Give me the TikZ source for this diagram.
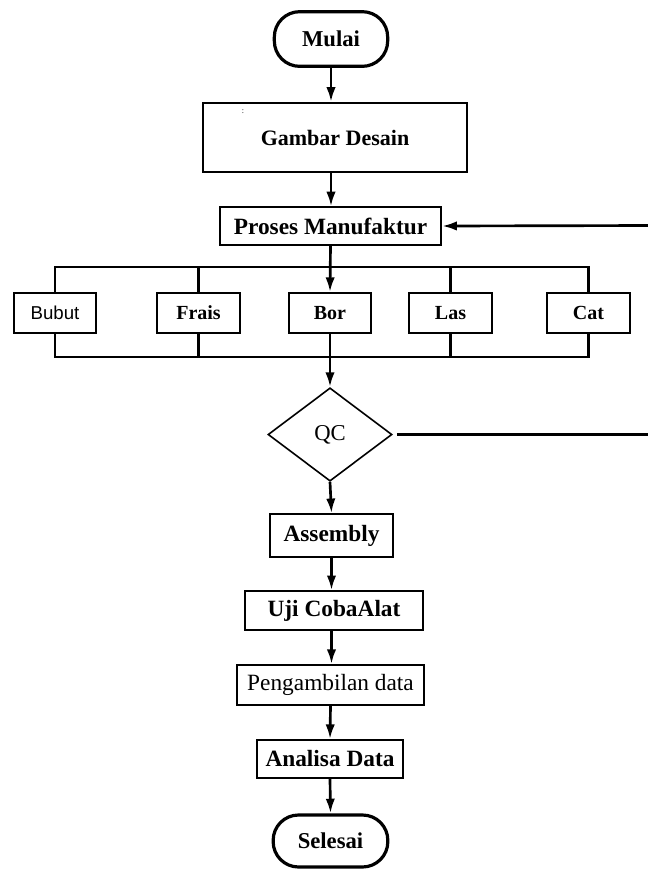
\documentclass[tikz,border=0pt]{standalone}
\usepackage{fontspec}
\setmainfont{Liberation Serif}
\setsansfont{Liberation Sans}
\usetikzlibrary{arrows.meta, positioning, shapes.geometric}

\begin{document}
\begin{tikzpicture}[
		x=0.75pt, y=-0.75pt,
		>={Latex[length=11pt,width=7pt]},
		terminal/.style={draw, line width=2.4pt, rounded corners=19pt, align=center, inner sep=2pt,
			font=\fontsize{17}{20}\selectfont\bfseries},
		procbox/.style={draw, line width=1.4pt, align=center, inner sep=2pt,
			font=\fontsize{17.5}{20}\selectfont\bfseries},
		rowbox/.style={draw, line width=1.4pt, align=center, inner sep=2pt, minimum width=62pt, minimum height=30pt,
			font=\fontsize{15}{18}\selectfont\bfseries},
		decision/.style={draw, diamond, line width=1.2pt, inner sep=0pt, minimum width=93pt, minimum height=70pt,
			font=\fontsize{17}{20}\selectfont},
		flow/.style={->, line width=2pt},
		bus/.style={line width=1.8pt}
		]
		\useasboundingbox (0,0) rectangle (648,869);
		
		% =========================================================
		% 1. Start and design
		% =========================================================
		\node[terminal, minimum width=85pt, minimum height=41pt] (Mulai) at (331,39) {Mulai};
		\node[procbox, minimum width=198pt, minimum height=52pt, font=\fontsize{16.5}{20}\selectfont\bfseries] (Gambar) at (335,137.5) {Gambar Desain};
		\node[font=\fontsize{6}{7}\selectfont] (GambarMark) at (243,112) {:};
		\node[procbox, minimum width=166pt, minimum height=28pt] (Proses) at (330.5,226) {Proses Manufaktur};
		
		% =========================================================
		% 2. Manufacturing processes
		% =========================================================
		\node[rowbox, font=\fontsize{14}{17}\selectfont\sffamily] (Bubut) at (55,313) {Bubut};
		\node[rowbox] (Frais) at (198.5,313) {Frais};
		\node[rowbox] (Bor) at (330,313) {Bor};
		\node[rowbox] (Las) at (450.5,313) {Las};
		\node[rowbox] (Cat) at (588.5,313) {Cat};
		
		\coordinate (TopBus) at (330,267);
		\coordinate (BottomBus) at (330,357);
		
		% =========================================================
		% 3. Quality control and the rest of the flow
		% =========================================================
		\node[decision] (QC) at (330,434.5) {QC};
		\node[procbox, minimum width=92pt, minimum height=32pt] (Assembly) at (331.5,535.5) {Assembly};
		\node[procbox, minimum width=133.5pt, minimum height=29pt] (Uji) at (334,610.5) {Uji CobaAlat};
		\node[procbox, minimum width=140pt, minimum height=30pt, font=\fontsize{17.5}{20}\selectfont] (Ambil) at (330.5,685) {Pengambilan data};
		\node[procbox, minimum width=110pt, minimum height=28.5pt] (Analisa) at (330,759) {Analisa Data};
		\node[terminal, minimum width=86pt, minimum height=39pt] (Selesai) at (330.5,841) {Selesai};
		
		\coordinate (BackTop) at (650,225.5);
		\coordinate (BackQC) at (650,434.5);
		
		% =========================================================
		% 4. Connectors
		% =========================================================
		\draw[flow] (Mulai) -- (Mulai.south |- Gambar.north);
		\draw[flow] (Gambar.south -| Mulai) -- (Proses.north -| Mulai);
		\draw[flow] (Proses.south) -- (Bor.north);
		\draw[flow] (BackTop) -- (Proses.east);
		
		% Upper and lower bus
		\draw[bus] (Bubut.north) -- (Bubut.north |- TopBus) -- (Cat.north |- TopBus) -- (Cat.north);
		\draw[bus, yshift=-0.8pt] (Frais.north) -- (Frais.north |- TopBus) -- (Las.north |- TopBus) -- (Las.north);
		\draw[bus] (Bubut.south) -- (Bubut.south |- BottomBus) -- (Cat.south |- BottomBus) -- (Cat.south);
		\draw[bus, yshift=0.8pt] (Frais.south) -- (Frais.south |- BottomBus) -- (Las.south |- BottomBus) -- (Las.south);
		
		\draw[flow] (Bor.south) -- (QC.north);
		\draw[line width=1.8pt] ([xshift=3pt]QC.east) -- (BackQC);
		\draw[flow] (QC.south) -- (Assembly.north);
		\draw[flow] (Assembly.south) -- (Uji.north -| Assembly.south);
		\draw[flow] (Uji.south -| Assembly.south) -- (Ambil.north -| Assembly.south);
		\draw[flow] (Ambil.south) -- (Analisa.north);
		\draw[flow] (Analisa.south) -- (Selesai.north);
	\end{tikzpicture}
\end{document}
